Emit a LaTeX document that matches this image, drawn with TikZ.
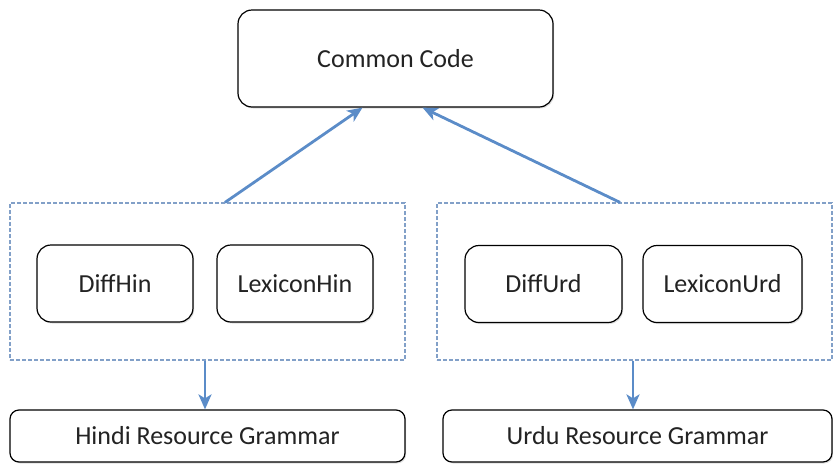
\documentclass[tikz,border=0pt]{standalone}
\usepackage{fontspec}
\setmainfont{Carlito}
\usepackage{tikz}
\usetikzlibrary{arrows.meta,shadows}

\definecolor{arrowblue}{RGB}{91,140,200}
\definecolor{dashblue}{RGB}{130,160,200}
\definecolor{textgrey}{RGB}{35,35,35}

\begin{document}
\begin{tikzpicture}[x=1pt,y=-1pt]
                      \tikzstyle{module}=[draw=black,line width=1.2pt,rounded corners=14pt,fill=white,text=textgrey,font=\fontsize{26}{30}\selectfont,inner sep=0pt,drop shadow={shadow xshift=1.2pt,shadow yshift=-1.5pt,opacity=0.25}]
                      \tikzstyle{grammar}=[module,rounded corners=9pt]
                      \tikzstyle{group}=[draw=dashblue,line width=1.2pt,dash pattern=on 4pt off 2pt,inner sep=0pt]
                      \tikzstyle{link}=[draw=arrowblue,line width=2.8pt,-{Stealth[length=15pt,width=13pt,inset=4pt]}]
                      \useasboundingbox (0,0) rectangle (833,464);
                      \node[module,minimum width=315pt,minimum height=97pt] (cc) at (395.5,58.5) {Common Code};
                      \node[group,minimum width=395pt,minimum height=157pt] (hin) at (207.5,281.5) {};
                      \node[group,minimum width=395pt,minimum height=157pt] (urd) at (634.5,281.5) {};
                      \node[module,minimum width=156pt,minimum height=77pt] (dh) at (115,283.5) {DiffHin};
                      \node[module,minimum width=156pt,minimum height=77pt] (lh) at (295,283.5) {LexiconHin};
                      \node[module,minimum width=157pt,minimum height=77pt] (du) at (543.5,284) {DiffUrd};
                      \node[module,minimum width=159pt,minimum height=77pt] (lu) at (722.5,284) {LexiconUrd};
                      \node[grammar,minimum width=395pt,minimum height=52pt] (hrg) at (207.5,436) {\raisebox{-3pt}{Hindi Resource Grammar}};
                      \node[grammar,minimum width=389pt,minimum height=52pt] (urg) at (637.5,436) {\raisebox{-3pt}{Urdu Resource Grammar}};
                      \draw[link] ([xshift=17.5pt]hin.north) -- ([xshift=-33pt]cc.south);
                      \draw[link] ([xshift=-14.5pt]urd.north) -- ([xshift=27pt]cc.south);
                      \draw[link] ([xshift=-2.5pt]hin.south) -- ([xshift=-2.5pt]hin.south |- hrg.north);
                      \draw[link] ([xshift=-1.5pt]urd.south) -- ([xshift=-1.5pt]urd.south |- urg.north);
                  \end{tikzpicture}
\end{document}
